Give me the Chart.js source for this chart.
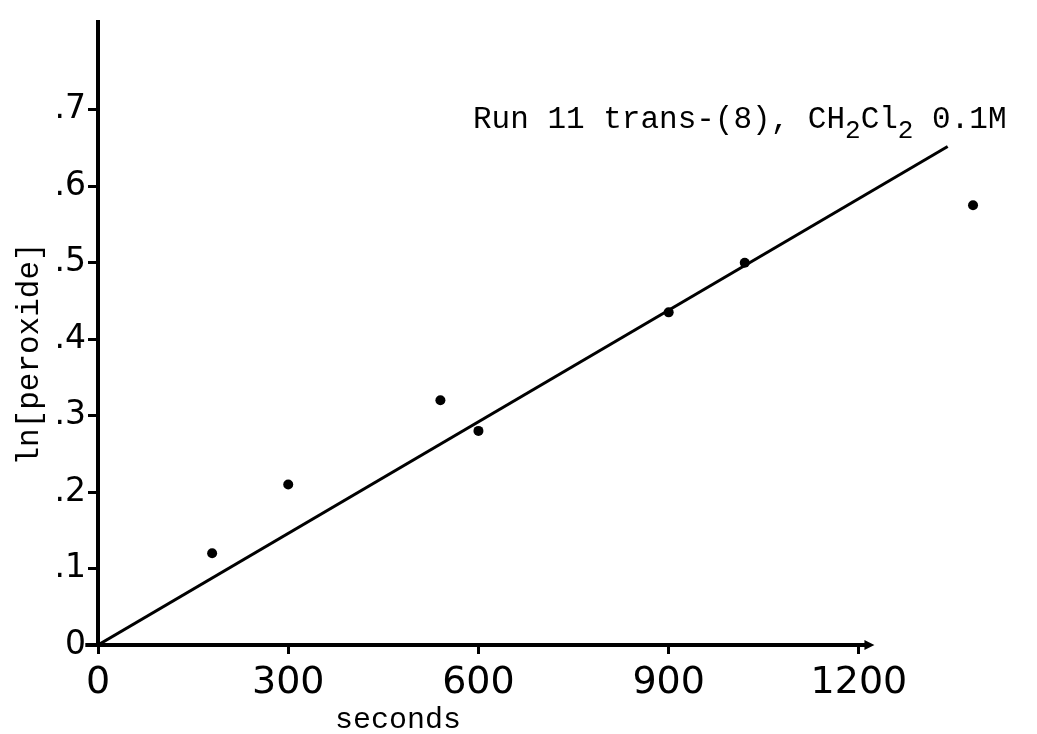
<!DOCTYPE html>
<html>
<head>
<meta charset="utf-8">
<script src="https://cdn.jsdelivr.net/npm/chart.js@4.4.1/dist/chart.umd.min.js"></script>
<style>
  html, body { margin: 0; padding: 0; background: #fff; }
  canvas { display: block; }
</style>
</head>
<body>
<canvas id="chart" width="1037" height="734"></canvas>
<script>
// ─── Data ───
const timeSec   = [180, 300, 540, 600, 900, 1020, 1380];
const lnPerox   = [0.12, 0.21, 0.32, 0.28, 0.435, 0.50, 0.575];
const fitX      = [0, 1340];
const fitY      = [0, 0.652];
const xTicks    = [0, 300, 600, 900, 1200];
const yTicks    = [0, 0.1, 0.2, 0.3, 0.4, 0.5, 0.6, 0.7];
const xAxisEnd  = 1215;

const INK = '#000';
const TYPE_FONT = "'Liberation Mono', 'DejaVu Sans Mono', monospace";
const HAND_FONT = "'DejaVu Sans', sans-serif";

// ─── Axis line + typed labels ───
const paperPlugin = {
    id: 'paper',
    afterDraw(chart) {
        const { ctx, scales: { x, y } } = chart;
        const y0 = y.getPixelForValue(0);
        const xEnd = x.getPixelForValue(xAxisEnd);
        ctx.save();
        // x axis only runs as far as the hand-drawn line did, small arrow tip
        ctx.strokeStyle = INK;
        ctx.lineWidth = 4;
        ctx.beginPath();
        ctx.moveTo(x.getPixelForValue(-20), y0);
        ctx.lineTo(xEnd, y0);
        ctx.stroke();
        ctx.fillStyle = INK;
        ctx.beginPath();
        ctx.moveTo(xEnd + 6, y0);
        ctx.lineTo(xEnd - 4, y0 - 5);
        ctx.lineTo(xEnd - 4, y0 + 5);
        ctx.closePath();
        ctx.fill();

        ctx.textBaseline = 'alphabetic';

        // title, with subscripts
        const big = '31px ' + TYPE_FONT;
        const sub = '26px ' + TYPE_FONT;
        let tx = 473, ty = 128;
        const parts = [
            ['Run 11 trans-(8), CH', big, 0],
            ['2', sub, 10],
            ['Cl', big, 0],
            ['2', sub, 10],
            [' 0.1M', big, 0]
        ];
        parts.forEach(([s, f, dy]) => {
            ctx.font = f;
            ctx.fillText(s, tx, ty + dy);
            tx += ctx.measureText(s).width;
        });

        // x title
        ctx.font = '30px ' + TYPE_FONT;
        ctx.textAlign = 'center';
        ctx.fillText('seconds', 398, 728);

        // y title
        ctx.translate(30, 354);
        ctx.rotate(-Math.PI / 2);
        ctx.textBaseline = 'middle';
        ctx.font = '31px ' + TYPE_FONT;
        ctx.fillText('ln[peroxide]', 0, 0);
        ctx.restore();
    }
};

new Chart(document.getElementById('chart'), {
    type: 'scatter',
    data: {
        datasets: [
            {
                label: 'fit',
                type: 'line',
                data: fitX.map((v, i) => ({ x: v, y: fitY[i] })),
                borderColor: INK,
                borderWidth: 3,
                pointRadius: 0,
                fill: false
            },
            {
                label: 'Run 11',
                data: timeSec.map((v, i) => ({ x: v, y: lnPerox[i] })),
                backgroundColor: INK,
                borderColor: INK,
                pointRadius: 5,
                pointBorderWidth: 0
            }
        ]
    },
    options: {
        responsive: false,
        devicePixelRatio: 1,
        animation: false,
        layout: { padding: { top: 13, right: 0, left: 0, bottom: 0 } },
        plugins: {
            legend: { display: false },
            tooltip: { enabled: false }
        },
        scales: {
            x: {
                type: 'linear',
                min: 0,
                max: 1473,
                afterFit(scale) { scale.height = 89; },
                afterBuildTicks(scale) { scale.ticks = xTicks.map(v => ({ value: v })); },
                border: { display: false },
                grid: {
                    drawOnChartArea: false,
                    drawTicks: true,
                    tickLength: 9,
                    lineWidth: 3,
                    color: INK
                },
                ticks: {
                    color: INK,
                    padding: 6,
                    maxRotation: 0,
                    font: { family: HAND_FONT, size: 38 },
                    callback: v => String(v)
                }
            },
            y: {
                type: 'linear',
                min: 0,
                max: 0.815,
                afterFit(scale) { scale.width = 98; },
                afterBuildTicks(scale) { scale.ticks = yTicks.map(v => ({ value: v })); },
                border: { display: true, color: INK, width: 4 },
                grid: {
                    drawOnChartArea: false,
                    drawTicks: true,
                    tickLength: 10,
                    lineWidth: 3,
                    color: INK
                },
                ticks: {
                    color: INK,
                    padding: 2,
                    font: { family: HAND_FONT, size: 33 },
                    callback: v => v === 0 ? '0' : '.' + Math.round(v * 10)
                }
            }
        }
    },
    plugins: [paperPlugin]
});
</script>
</body>
</html>
